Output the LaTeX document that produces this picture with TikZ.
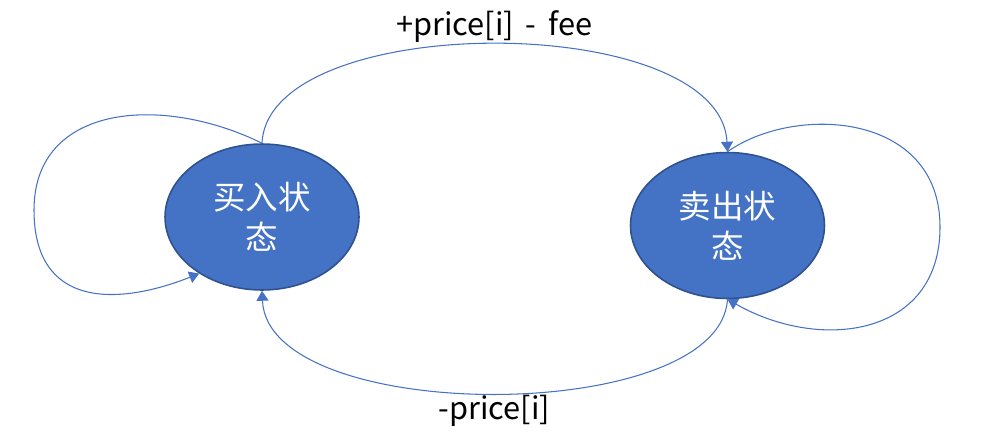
\documentclass[tikz,border=0pt]{standalone}
\usepackage{xcolor}
\usepackage{fontspec}
\setmainfont{Noto Sans CJK SC}
\usepackage{tikz}
\usetikzlibrary{positioning}
\usetikzlibrary{arrows.meta,shapes.geometric}

\definecolor{stateblue}{HTML}{4472C4}
\definecolor{stateedge}{HTML}{2F528F}

\begin{document}
\begin{tikzpicture}[x=0.02cm,y=-0.02cm,
	statenode/.style={ellipse,draw=stateedge,line width=0.9pt,fill=stateblue,
		minimum width=3.88cm,minimum height=2.92cm,inner sep=0pt,
		text=white,align=center,font=\fontsize{18.5pt}{22.7pt}\selectfont},
	trans/.style={draw=stateblue,line width=0.6pt,-{Triangle[length=2mm,width=2.4mm]}},
	lab/.style={inner sep=1pt,font=\fontsize{17.5pt}{20pt}\selectfont}]
	\useasboundingbox (0,0) rectangle (982,443);

	\node[statenode] (buy) at (262,217) {买入状\\态};
	\node[statenode] (sell) [right = 5.4cm of buy, yshift=-0.17cm] {卖出状\\态};

	\draw[trans] (buy.north) .. controls (268,10) and (720,10) .. (sell.north)
		node[lab,pos=0.5,above] (fee) {+price[i]\, - \,fee};
	\draw[trans] (sell.south) .. controls (720,426) and (268,426) .. (buy.south)
		node[lab,pos=0.5,below] (cost) {-price[i]};

	% self loops
	\draw[trans] (buy.north) .. controls (162,94) and (34,104) .. (34,210)
		.. controls (34,310) and (120,305) .. (buy.222);
	\draw[trans] (sell.north) .. controls (795,104) and (940,112) .. (940,227)
		.. controls (940,337) and (820,352) .. (sell.south);
\end{tikzpicture}
\end{document}
